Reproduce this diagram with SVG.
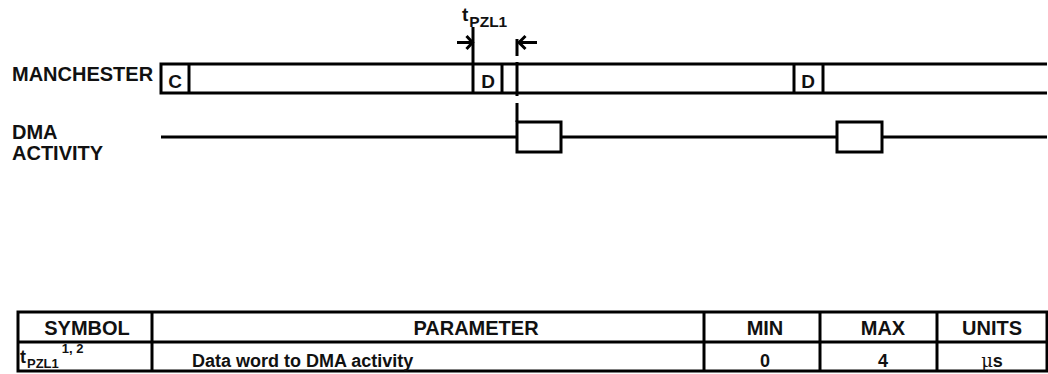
<svg xmlns="http://www.w3.org/2000/svg" width="1048" height="374" viewBox="0 0 1048 374">
<style>
.ln{stroke:#000;stroke-width:3;fill:none}
.tx{font-family:"Liberation Sans",Arial,sans-serif;font-weight:bold;fill:#111}
.lb{font-size:20px}
.bx{font-size:19px;text-anchor:middle}
.th{font-size:20px}
.td{font-size:18px}
.ct{text-anchor:middle}
</style>
<rect width="1048" height="374" fill="#fff"/>
<g id="label-manchester"><text class="tx lb" x="12" y="81">MANCHESTER</text></g>
<g id="label-dma"><text class="tx lb" x="12" y="139">DMA</text><text class="tx lb" x="12" y="160">ACTIVITY</text></g>
<g id="manchester-signal">
<path class="ln" d="M1047,64 H161 V93 H1047"/>
<line class="ln" x1="189" y1="64" x2="189" y2="93"/>
<line class="ln" x1="473" y1="27" x2="473" y2="93"/>
<line class="ln" x1="502" y1="64" x2="502" y2="93"/>
<line class="ln" x1="794" y1="64" x2="794" y2="93"/>
<line class="ln" x1="823" y1="64" x2="823" y2="93"/>
<text class="tx bx" x="175" y="88">C</text>
<text class="tx bx" x="488" y="88">D</text>
<text class="tx bx" x="808" y="88">D</text>
</g>
<g id="dma-signal">
<path class="ln" d="M161,137 H517"/>
<rect class="ln" x="517" y="122" width="44" height="30"/>
<path class="ln" d="M561,137 H837"/>
<rect class="ln" x="837" y="122" width="45" height="30"/>
<path class="ln" d="M882,137 H1047"/>
</g>
<g id="connectors">
<path class="ln" d="M517,39 V56 M517,62 V96 M517,103 V122"/>
<path class="ln" d="M457,42.5 H472 M466.5,36 L472.5,42.5 L466.5,49"/>
<path class="ln" d="M537,42.5 H519 M525.5,36 L519,42.5 L525.5,49"/>
</g>
<g id="label-tpzl1"><text class="tx" x="462" y="21" style="font-size:19px">t<tspan dx="1" y="26.5" style="font-size:15.5px">PZL1</tspan></text></g>
<g id="table">
<rect class="ln" x="18" y="312" width="1029" height="59"/>
<line class="ln" x1="18" y1="342" x2="1047" y2="342"/>
<line class="ln" x1="152" y1="312" x2="152" y2="371"/>
<line class="ln" x1="704" y1="312" x2="704" y2="371"/>
<line class="ln" x1="820" y1="312" x2="820" y2="371"/>
<line class="ln" x1="937" y1="312" x2="937" y2="371"/>
<text class="tx th ct" x="87" y="335">SYMBOL</text>
<text class="tx th ct" x="476" y="335">PARAMETER</text>
<text class="tx th ct" x="765" y="335">MIN</text>
<text class="tx th ct" x="883" y="335">MAX</text>
<text class="tx th ct" x="992" y="335">UNITS</text>
<text class="tx" x="20" y="363" style="font-size:18px">t<tspan dx="1" y="368" style="font-size:13px">PZL1</tspan><tspan dx="3" y="353" style="font-size:13px">1, 2</tspan></text>
<text class="tx td" x="192" y="367">Data word to DMA activity</text>
<text class="tx td ct" x="765" y="367">0</text>
<text class="tx td ct" x="883" y="367">4</text>
<text class="tx td ct" x="992" y="367"><tspan style="font-family:'DejaVu Serif',serif;font-weight:normal">μ</tspan>s</text>
</g>
</svg>
